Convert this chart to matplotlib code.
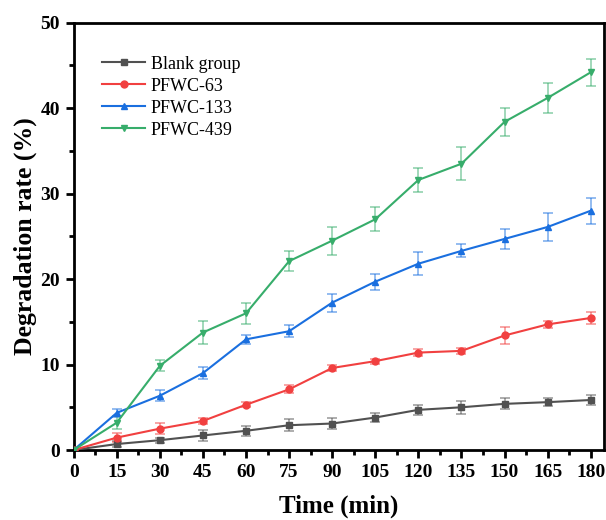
import matplotlib
matplotlib.use("Agg")
import matplotlib.pyplot as plt
from matplotlib.ticker import MultipleLocator

plt.rcParams["font.family"] = ["Liberation Serif", "DejaVu Serif"]

# degradation over time (min) for each sample
time = [0, 15, 30, 45, 60, 75, 90, 105, 120, 135, 150, 165, 180]

blank = [0, 0.7, 1.15, 1.7, 2.25, 2.9, 3.1, 3.8, 4.7, 5.0, 5.4, 5.6, 5.85]
blank_err = [0, 0.3, 0.3, 0.6, 0.6, 0.7, 0.7, 0.5, 0.6, 0.75, 0.65, 0.5, 0.55]

pfwc63 = [0, 1.45, 2.5, 3.4, 5.3, 7.1, 9.6, 10.4, 11.4, 11.6, 13.4, 14.7, 15.45]
pfwc63_err = [0, 0.5, 0.65, 0.4, 0.3, 0.45, 0.35, 0.3, 0.45, 0.35, 1.0, 0.45, 0.7]

pfwc133 = [0, 4.35, 6.35, 9.0, 12.95, 13.9, 17.25, 19.7, 21.8, 23.3, 24.7, 26.1, 28.0]
pfwc133_err = [0, 0.5, 0.65, 0.7, 0.5, 0.7, 1.05, 0.95, 1.35, 0.75, 1.2, 1.6, 1.5]

pfwc439 = [0, 3.2, 9.85, 13.75, 16.0, 22.1, 24.5, 27.0, 31.6, 33.5, 38.4, 41.2, 44.2]
pfwc439_err = [0, 0.75, 0.65, 1.3, 1.2, 1.15, 1.65, 1.4, 1.45, 1.95, 1.6, 1.8, 1.6]

labels = ["Blank group", "PFWC-63", "PFWC-133", "PFWC-439"]
colors = ["#515151", "#F14040", "#1A6FDF", "#37AD6B"]
markers = ["s", "o", "^", "v"]

fig = plt.figure(figsize=(6.06, 5.2), dpi=100)
ax = fig.add_axes([0.1216, 0.1346, 0.875, 0.8217])

series = [(blank, blank_err), (pfwc63, pfwc63_err),
          (pfwc133, pfwc133_err), (pfwc439, pfwc439_err)]
for (y, err), lab, c, m in zip(series, labels, colors, markers):
    ax.errorbar(time, y, yerr=err, fmt="none", ecolor=c, alpha=0.55,
                elinewidth=1.2, capsize=3.5, capthick=1.2, zorder=2)
    ax.plot(time, y, color=c, marker=m, markersize=5, linewidth=1.5,
            label=lab, zorder=3)

ax.set_xlim(0, 184.6)
ax.set_ylim(0, 50)
ax.set_xticks(time)
ax.xaxis.set_minor_locator(MultipleLocator(7.5))
ax.yaxis.set_major_locator(MultipleLocator(10))
ax.yaxis.set_minor_locator(MultipleLocator(5))

for s in ax.spines.values():
    s.set_linewidth(2)
ax.tick_params(which="major", direction="out", length=6, width=2,
               labelsize=14, pad=4)
ax.tick_params(which="minor", direction="out", length=3.5, width=2)
for t in ax.get_xticklabels() + ax.get_yticklabels():
    t.set_fontweight("bold")

ax.set_xlabel("Time (min)", fontsize=18, fontweight="bold", labelpad=10)
ax.set_ylabel("Degradation rate (%)", fontsize=18.5, fontweight="bold", labelpad=2)

ax.legend(loc="upper left", bbox_to_anchor=(0.04, 0.94), frameon=False,
          fontsize=13, handlelength=2.4, handletextpad=0.3,
          labelspacing=0.28, borderaxespad=0)

fig.savefig("out.png", dpi=100)
